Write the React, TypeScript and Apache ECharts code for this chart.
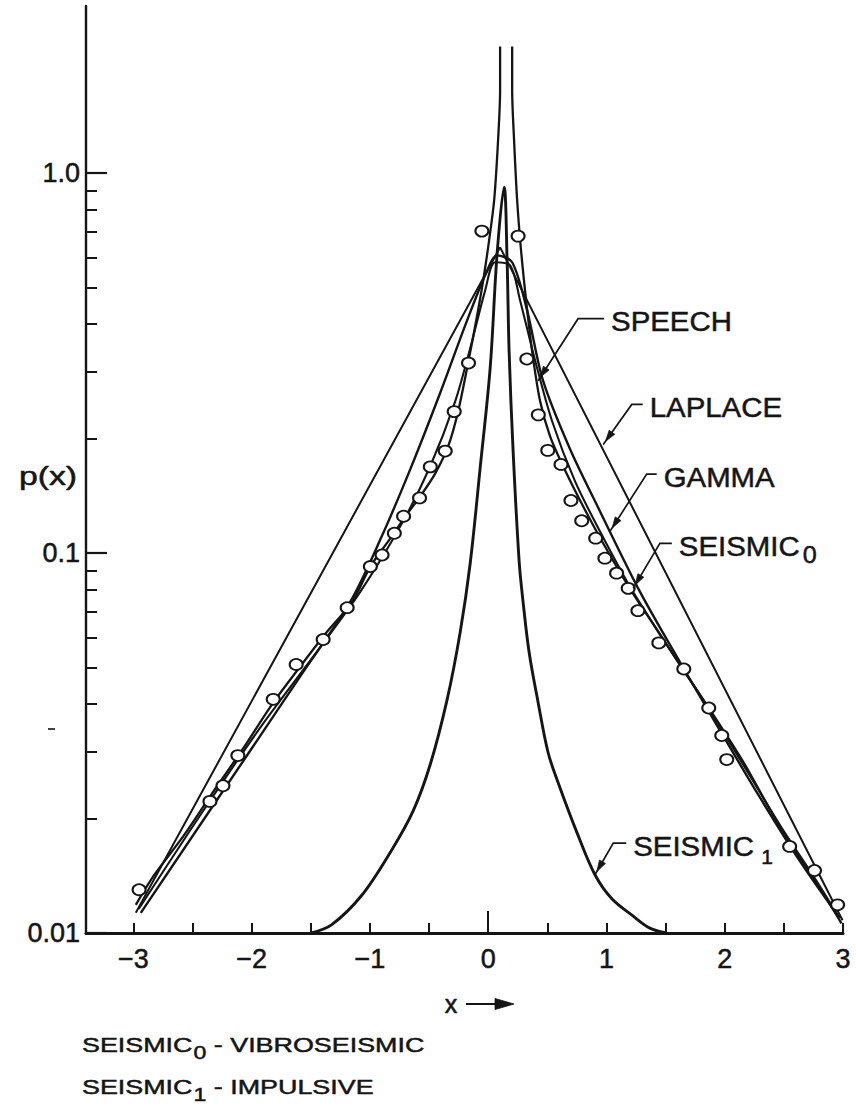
import React, { useEffect, useRef } from 'react';
import * as echarts from 'echarts';

const FONT = '"Liberation Sans", Arial, Helvetica, sans-serif';
const INK = '#151515';

const X_MIN = -3.4;
const X_MAX = 3;
const Y_MIN = 0.01;
const Y_MAX = 2.75;

// axis decoration
const xTickValues = [-3, -2.5, -2, -1.5, -1, -0.5, 0, 0.5, 1, 1.5, 2, 2.5, 3];
const xLabelValues = [-3, -2, -1, 0, 1, 2, 3];
const xCentreTick = [0];
const yMajorTicks = [0.01, 0.1, 1];
const yMinorTicks = [0.02, 0.03, 0.04, 0.05, 0.06, 0.07, 0.08, 0.09, 0.2, 0.3, 0.4, 0.5, 0.6, 0.7, 0.8, 0.9];

// model densities: [x, p(x)]
const laplace: [number, number][] = [
  [-2.979, 0.0113], [0.101, 0.637], [2.996, 0.0108],
];

const speech: [number, number][] = [
  [-2.937, 0.0113], [-2.008, 0.0303], [-1.586, 0.0475], [-1.165, 0.0745], [-0.911, 0.1086],
  [-0.658, 0.1662], [-0.405, 0.264], [-0.194, 0.397], [-0.025, 0.538], [0.076, 0.607],
  [0.203, 0.582], [0.329, 0.435], [0.464, 0.284], [0.692, 0.1877], [0.945, 0.1288],
  [1.283, 0.0791], [1.62, 0.0517], [1.958, 0.0342], [2.295, 0.0228], [2.633, 0.0155], [2.97, 0.01096],
];

const gammaLeft: [number, number][] = [
  [-2.979, 0.01186], [-2.827, 0.01415], [-2.574, 0.01804], [-2.346, 0.023], [-2.093, 0.0299],
  [-1.814, 0.0405], [-1.586, 0.0504], [-1.376, 0.0613], [-1.148, 0.0745], [-0.996, 0.0921],
  [-0.827, 0.1092], [-0.7, 0.1248], [-0.574, 0.141], [-0.447, 0.162], [-0.338, 0.191],
  [-0.253, 0.2365], [-0.169, 0.317], [-0.101, 0.409], [-0.042, 0.521], [0.008, 0.665],
  [0.051, 0.849], [0.084, 1.222], [0.101, 1.656], [0.101, 2.15],
];

const gammaRight: [number, number][] = [
  [0.203, 2.15], [0.203, 1.656], [0.219, 1.222], [0.245, 0.849], [0.278, 0.626],
  [0.321, 0.462], [0.371, 0.341], [0.439, 0.251], [0.523, 0.203], [0.633, 0.1694],
  [0.759, 0.141], [0.903, 0.116], [1.046, 0.0967], [1.198, 0.0806], [1.409, 0.064],
  [1.662, 0.0486], [1.916, 0.037], [2.169, 0.0278], [2.422, 0.0201], [2.633, 0.01578],
  [2.819, 0.0129], [2.987, 0.0106],
];

const seismic0: [number, number][] = [
  [-2.954, 0.01157], [-2.43, 0.0205], [-1.924, 0.0348], [-1.418, 0.0566], [-1.08, 0.0791],
  [-0.743, 0.1175], [-0.489, 0.1694], [-0.278, 0.251], [-0.135, 0.362], [-0.025, 0.491],
  [0.059, 0.582], [0.186, 0.571], [0.27, 0.462], [0.397, 0.321], [0.54, 0.2225],
  [0.734, 0.1545], [0.945, 0.114], [1.198, 0.0816], [1.494, 0.0584], [1.831, 0.0405],
  [2.169, 0.0273], [2.506, 0.0184], [2.759, 0.01397], [2.97, 0.01096],
];

const seismic1: [number, number][] = [
  [-1.494, 0.01], [-1.325, 0.0105], [-1.072, 0.01253], [-0.819, 0.01647], [-0.633, 0.021],
  [-0.489, 0.0278], [-0.346, 0.04125], [-0.236, 0.062], [-0.152, 0.0938], [-0.068, 0.167],
  [0.017, 0.307], [0.076, 0.615], [0.135, 0.918], [0.16, 0.589], [0.177, 0.3405],
  [0.211, 0.1854], [0.262, 0.095], [0.295, 0.0745], [0.346, 0.0549], [0.422, 0.0405],
  [0.506, 0.0299], [0.591, 0.0249], [0.751, 0.01837], [0.903, 0.01423], [1.046, 0.0123],
  [1.224, 0.01109], [1.367, 0.0103], [1.51, 0.01],
];

// measured speech amplitude histogram
const measuredPoints: [number, number][] = [
  [-2.951, 0.013], [-2.352, 0.0222], [-2.242, 0.0244], [-2.116, 0.0293], [-1.817, 0.0412],
  [-1.623, 0.0509], [-1.395, 0.0592], [-1.192, 0.0718], [-0.996, 0.0921], [-0.897, 0.0988],
  [-0.793, 0.1127], [-0.715, 0.1249], [-0.58, 0.1396], [-0.489, 0.1685], [-0.363, 0.1854],
  [-0.287, 0.2355], [-0.166, 0.316], [-0.053, 0.703],
  [0.253, 0.682], [0.327, 0.324], [0.424, 0.2309], [0.504, 0.1862], [0.616, 0.171],
  [0.7, 0.1374], [0.791, 0.1216], [0.909, 0.1094], [0.987, 0.0969], [1.086, 0.0885],
  [1.184, 0.0807], [1.266, 0.0705], [1.443, 0.058], [1.654, 0.0495], [1.865, 0.0391],
  [1.975, 0.0331], [2.017, 0.0286], [2.549, 0.0169], [2.759, 0.0146], [2.954, 0.01186],
];

// callouts: the point each leader arrow touches, the elbow offset and the arm length
const callouts = [
  { name: 'SPEECH', sub: '', at: [0.422, 0.284], elbow: [40, -62], arm: 26 },
  { name: 'LAPLACE', sub: '', at: [0.973, 0.193], elbow: [28.5, -40], arm: 11 },
  { name: 'GAMMA', sub: '', at: [1.03, 0.114], elbow: [36.7, -57.3], arm: 10 },
  { name: 'SEISMIC', sub: '0', at: [1.226, 0.0807], elbow: [26.7, -45], arm: 12 },
  { name: 'SEISMIC', sub: '1', at: [0.903, 0.01423], elbow: [18.3, -31.7], arm: 13 },
];

const legendLines = [
  { name: 'SEISMIC', sub: '0', rest: ' - VIBROSEISMIC' },
  { name: 'SEISMIC', sub: '1', rest: ' - IMPULSIVE' },
];

function curve(name: string, data: [number, number][], width: number, smooth: number | boolean) {
  return {
    type: 'line',
    name,
    data,
    smooth,
    showSymbol: false,
    symbol: 'none',
    lineStyle: { color: INK, width },
    z: 2,
  };
}

const labelInk = {
  color: INK,
  fontFamily: FONT,
  fontSize: 27,
  textBorderColor: INK,
  textBorderWidth: 0.5,
};

function buildOption() {
  const log10 = (v: number) => Math.log10(v);
  const hiddenY = (ticks: number[], length: number, width: number) => ({
    type: 'value',
    min: log10(Y_MIN),
    max: log10(Y_MAX),
    position: 'left',
    offset: 0,
    axisLine: { show: false, onZero: false },
    axisTick: { show: true, inside: true, length, lineStyle: { color: INK, width }, customValues: ticks.map(log10) },
    axisLabel: { show: false },
    splitLine: { show: false },
  });
  return {
    animation: false,
    backgroundColor: '#ffffff',
    grid: { left: 86, right: 13, top: 6, bottom: 176, containLabel: false, outerBoundsMode: 'none' },
    xAxis: [
      {
        type: 'value',
        min: X_MIN,
        max: X_MAX,
        position: 'bottom',
        axisLine: { show: true, onZero: false, lineStyle: { color: INK, width: 3 } },
        axisTick: { show: true, inside: true, length: 10, lineStyle: { color: INK, width: 2 }, customValues: xTickValues },
        axisLabel: {
          show: true,
          customValues: xLabelValues,
          margin: 12,
          ...labelInk,
          formatter: (v: number) => (v < 0 ? '\u2212' + Math.abs(v) : String(v)),
        },
        splitLine: { show: false },
      },
      {
        type: 'value',
        min: X_MIN,
        max: X_MAX,
        position: 'bottom',
        offset: 0,
        axisLine: { show: false, onZero: false },
        axisTick: { show: true, inside: true, length: 22, lineStyle: { color: INK, width: 2 }, customValues: xCentreTick },
        axisLabel: { show: false },
        splitLine: { show: false },
      },
    ],
    yAxis: [
      {
        type: 'log',
        logBase: 10,
        min: Y_MIN,
        max: Y_MAX,
        position: 'left',
        axisLine: { show: true, onZero: false, lineStyle: { color: INK, width: 2.4 } },
        axisTick: { show: false },
        axisLabel: {
          show: true,
          margin: 6,
          ...labelInk,
          showMaxLabel: false,
          formatter: (v: number) => {
            const e = Math.log10(v);
            if (Math.abs(e - Math.round(e)) > 1e-6) return '';
            const n = Math.round(e);
            return n === 0 ? '1.0' : String(Math.pow(10, n));
          },
        },
        splitLine: { show: false },
        minorSplitLine: { show: false },
      },
      hiddenY(yMajorTicks, 21, 2.2),
      hiddenY(yMinorTicks, 11, 2),
    ],
    series: [
      curve('LAPLACE', laplace, 2, false),
      curve('SPEECH', speech, 2.4, 0.3),
      curve('GAMMA', gammaLeft, 2.3, 0.3),
      curve('GAMMA', gammaRight, 2.3, 0.3),
      curve('SEISMIC0', seismic0, 2.1, 0.3),
      curve('SEISMIC1', seismic1, 2.9, 0.35),
      {
        type: 'scatter',
        name: 'measured',
        data: measuredPoints,
        symbol: 'circle',
        symbolSize: [13, 11],
        itemStyle: { color: '#ffffff', borderColor: INK, borderWidth: 1.9, opacity: 1 },
        z: 5,
      },
    ],
  };
}

function textWidth(text: string, size: number) {
  const t = new (echarts.graphic as any).Text({ style: { text, fontSize: size, fontFamily: FONT } });
  return t.getBoundingRect().width as number;
}

// a word followed by a lowered index digit and an optional tail, all left-aligned from x
function subscripted(
  x: number, y: number, name: string, sub: string, rest: string,
  size: number, subSize: number, drop: number, gap: number, scale: number,
) {
  const out: any[] = [];
  const base = { fontFamily: FONT, fill: INK, stroke: INK, lineWidth: 0.5, align: 'left', verticalAlign: 'middle' };
  out.push({ type: 'text', x, y, scaleX: scale, z: 10, style: { ...base, text: name, fontSize: size } });
  let cx = x + textWidth(name, size) * scale;
  if (sub) {
    cx += gap;
    out.push({ type: 'text', x: cx, y: y + drop, scaleX: scale, z: 10, style: { ...base, text: sub, fontSize: subSize } });
    cx += textWidth(sub, subSize) * scale;
  }
  if (rest) {
    out.push({ type: 'text', x: cx, y, scaleX: scale, z: 10, style: { ...base, text: rest, fontSize: size } });
  }
  return out;
}

function buildGraphics(chart: echarts.ECharts) {
  const toPx = (p: number[]) => chart.convertToPixel({ xAxisIndex: 0, yAxisIndex: 0 }, p) as number[];
  const g: any[] = [];

  callouts.forEach((c) => {
    const tip = toPx(c.at);
    const elbow = [tip[0] + c.elbow[0], tip[1] + c.elbow[1]];
    const armEnd = [elbow[0] + c.arm, elbow[1]];
    g.push({
      type: 'polyline',
      shape: { points: [tip, elbow, armEnd] },
      style: { stroke: INK, lineWidth: 1.7, fill: null },
      z: 10,
    });
    const dx = tip[0] - elbow[0];
    const dy = tip[1] - elbow[1];
    const len = Math.hypot(dx, dy);
    const ux = dx / len;
    const uy = dy / len;
    const head = [tip[0] - ux * 4, tip[1] - uy * 4];
    const base = [head[0] - ux * 11, head[1] - uy * 11];
    const nx = -uy;
    const ny = ux;
    g.push({
      type: 'polygon',
      shape: { points: [head, [base[0] + nx * 3.4, base[1] + ny * 3.4], [base[0] - nx * 3.4, base[1] - ny * 3.4]] },
      style: { fill: INK, stroke: INK, lineWidth: 0.8 },
      z: 10,
    });
    const isOne = c.sub === '1';
    g.push(...subscripted(armEnd[0] + 7, armEnd[1] + 3, c.name, c.sub, '', 28,
      isOne ? 20 : 24, isOne ? 11 : 8, isOne ? 7 : 3, 1.05));
  });

  // y-axis title
  g.push({
    type: 'text',
    x: 48,
    y: 476,
    scaleX: 1.3,
    style: { text: 'p(x)', fontSize: 26, fontFamily: FONT, fill: INK, stroke: INK, lineWidth: 0.5, align: 'center', verticalAlign: 'middle' },
  });

  // x-axis title with arrow
  g.push({
    type: 'text',
    x: 451,
    y: 1004,
    style: { text: 'x', fontSize: 25, fontFamily: FONT, fill: INK, stroke: INK, lineWidth: 0.5, align: 'center', verticalAlign: 'middle' },
  });
  g.push({ type: 'line', shape: { x1: 466, y1: 1004, x2: 500, y2: 1004 }, style: { stroke: INK, lineWidth: 2.2 } });
  g.push({
    type: 'polygon',
    shape: { points: [[495, 998.5], [514, 1004], [495, 1009.5]] },
    style: { fill: INK, stroke: INK, lineWidth: 0.8 },
  });

  // short mark left of the axis
  g.push({ type: 'line', shape: { x1: 48, y1: 729, x2: 55, y2: 729 }, style: { stroke: INK, lineWidth: 1.6 } });

  // key to the seismic curves
  legendLines.forEach((l, i) => {
    g.push(...subscripted(82, 1045 + i * 42, l.name, l.sub, l.rest, 21, 18, 7, 1, 1.28));
  });

  return g;
}

export default function App() {
  const ref = useRef<HTMLDivElement>(null);
  useEffect(() => {
    const el = ref.current;
    if (!el) return;
    const chart = echarts.init(el, null, { renderer: 'svg' });
    chart.setOption(buildOption() as any);
    chart.setOption({ graphic: buildGraphics(chart) } as any);
    return () => chart.dispose();
  }, []);
  return (
    <div
      ref={ref}
      style={{ position: 'absolute', left: 0, top: 0, width: 856, height: 1109, background: '#ffffff' }}
    />
  );
}
